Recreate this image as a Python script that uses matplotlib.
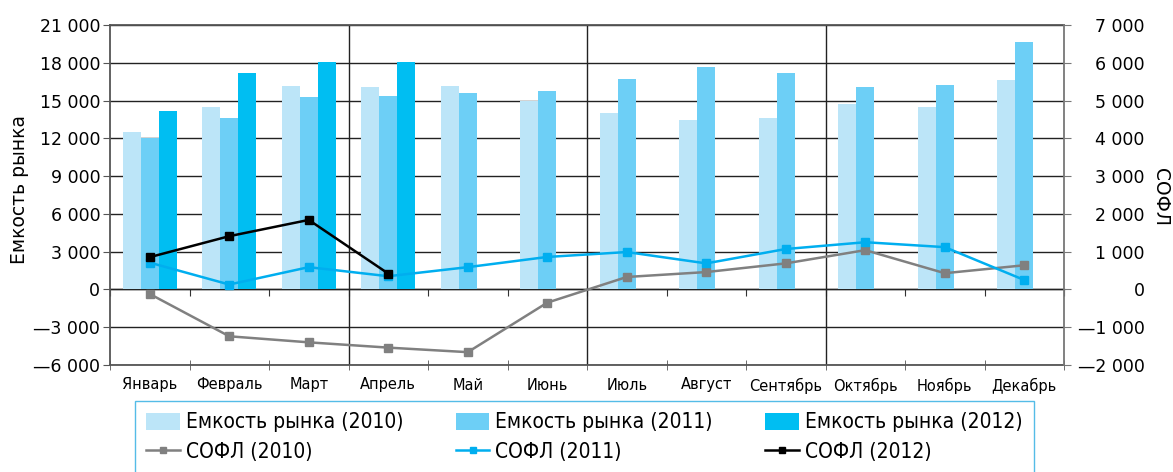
import numpy as np
import matplotlib
matplotlib.use("Agg")
import matplotlib.pyplot as plt
from matplotlib.ticker import FuncFormatter
from matplotlib import font_manager as fm

months = ["Январь", "Февраль", "Март", "Апрель", "Май", "Июнь",
          "Июль", "Август", "Сентябрь", "Октябрь", "Ноябрь", "Декабрь"]
cap_2010 = [12500, 14450, 16150, 16050, 16150, 15000, 14050, 13450, 13650, 14700, 14450, 16600]
cap_2011 = [12050, 13600, 15250, 15400, 15600, 15750, 16700, 17650, 17150, 16050, 16200, 19650]
cap_2012 = [14200, 17150, 18100, 18050, np.nan, np.nan, np.nan, np.nan, np.nan, np.nan, np.nan, np.nan]
sofl_2010 = [-120, -1240, -1400, -1540, -1660, -350, 330, 460, 690, 1040, 430, 640]
sofl_2011 = [710, 130, 590, 350, 590, 860, 990, 690, 1070, 1250, 1120, 250]
sofl_2012 = [855, 1410, 1840, 420, np.nan, np.nan, np.nan, np.nan, np.nan, np.nan, np.nan, np.nan]

left_ticks = list(range(-6000, 21001, 3000))
right_ticks = list(range(-2000, 7001, 1000))

def fmt(v, pos=None):
    v = int(round(v))
    s = f"{abs(v):,}".replace(",", " ")
    return ("—" + s) if v < 0 else s

c10, c11, c12 = "#BCE5F8", "#6DCFF6", "#00BEF2"
l10, l11, l12 = "#808080", "#00AEEF", "#000000"

# condensed font for legend if available
cond = None
for f in fm.fontManager.ttflist:
    if f.name == "DejaVu Sans" and "ondensed" in f.fname and "Bold" not in f.fname and "Oblique" not in f.fname:
        cond = f.fname
        break
if cond:
    leg_prop = fm.FontProperties(fname=cond, size=15)
else:
    leg_prop = fm.FontProperties(family="Liberation Sans", size=14)

fig = plt.figure(figsize=(11.73, 4.72), dpi=100)
ax = fig.add_axes([110/1173, 1-365/472, 954/1173, 340/472])
ax2 = ax.twinx()

x = np.arange(len(months))
w = 0.226
ax.bar(x - w, cap_2010, w, color=c10, label="Емкость рынка (2010)", zorder=2)
ax.bar(x, cap_2011, w, color=c11, label="Емкость рынка (2011)", zorder=2)
ax.bar(x + w, cap_2012, w, color=c12, label="Емкость рынка (2012)", zorder=2)

ax.set_xlim(-0.5, 11.5)
ax.set_ylim(-6000, 21000)
ax.set_yticks(left_ticks)
ax.yaxis.set_major_formatter(FuncFormatter(fmt))
ax.set_axisbelow(True)
ax.yaxis.grid(True, color="#222222", lw=1.0)
for b in [2.5, 5.5, 8.5]:
    ax.axvline(b, color="#222222", lw=1.0, zorder=1)

ax.set_xticks(x)
ax.set_xticklabels(months, fontsize=10.5, family="DejaVu Sans")
ax.set_xticks(np.arange(-0.5, 12, 1), minor=True)
ax.tick_params(axis="x", which="major", length=0, pad=9)
ax.tick_params(axis="x", which="minor", length=7, direction="inout", color="#555555")
ax.tick_params(axis="y", length=5, direction="out", color="#555555", labelsize=12.5, pad=2)
for lab in ax.get_yticklabels():
    lab.set_family("DejaVu Sans")
for s in ["left", "bottom", "top"]:
    ax.spines[s].set_color("#555555")
    ax.spines[s].set_linewidth(1.3)
ax.spines["right"].set_visible(False)

# zero axis ticks
sec = ax.secondary_xaxis(6000/27000)
sec.set_xticks(np.arange(-0.5, 12, 1))
sec.tick_params(axis="x", length=5, direction="out", color="#333333", labelbottom=False, labeltop=False, bottom=True, top=False)
sec.spines["bottom"].set_color("#222222")
sec.spines["bottom"].set_linewidth(1.0)

mk = dict(marker="s", markersize=6, lw=1.8)
ax2.plot(x, sofl_2010, color=l10, label="СОФЛ (2010)", zorder=3, **mk)
ax2.plot(x, sofl_2011, color=l11, label="СОФЛ (2011)", zorder=4, **mk)
ax2.plot(x, sofl_2012, color=l12, label="СОФЛ (2012)", zorder=5, **mk)
ax2.set_ylim(-2000, 7000)
ax2.set_yticks(right_ticks)
ax2.yaxis.set_major_formatter(FuncFormatter(fmt))
ax2.tick_params(axis="y", length=5, direction="out", color="#777777", labelsize=12.5, pad=53)
for lab in ax2.get_yticklabels():
    lab.set_horizontalalignment("right")
    lab.set_family("DejaVu Sans")
for s in ["left", "bottom", "top"]:
    ax2.spines[s].set_visible(False)
ax2.spines["right"].set_color("#777777")
ax2.spines["right"].set_linewidth(1.3)

fig.text(20/1173, 1-190/472, "Емкость рынка", rotation=90, va="center", ha="center",
         fontsize=13.5, family="DejaVu Sans")
fig.text(1161/1173, 1-197/472, "СОФЛ", rotation=-90, va="center", ha="center",
         fontsize=13.5, family="DejaVu Sans")

h1, lb1 = ax.get_legend_handles_labels()
h2, lb2 = ax2.get_legend_handles_labels()
handles = [h1[0], h2[0], h1[1], h2[1], h1[2], h2[2]]
labels = [lb1[0], lb2[0], lb1[1], lb2[1], lb1[2], lb2[2]]
leg = fig.legend(handles, labels, ncol=3, loc="upper left",
                 bbox_to_anchor=(135/1173, 1-401/472, 899/1173, 0),
                 mode="expand", frameon=True, fancybox=False,
                 prop=leg_prop,
                 handlelength=1.6, handleheight=0.9, handletextpad=0.3,
                 borderpad=0.55, labelspacing=0.45, columnspacing=1.5,
                 borderaxespad=0)
leg.get_frame().set_edgecolor("#29ABE2")
leg.get_frame().set_linewidth(1.0)
for h in leg.legend_handles:
    if hasattr(h, "set_markersize"):
        h.set_markersize(4)

fig.savefig("out.png", dpi=100)
